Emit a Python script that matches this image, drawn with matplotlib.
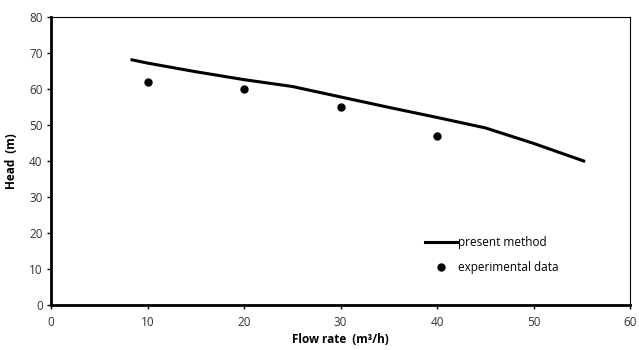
import matplotlib.pyplot as plt

# present method (computed curve)
method_q = [8.4, 10, 15, 20, 25, 30, 35, 40, 45, 50, 55.2]
method_h = [68.1, 67.2, 64.8, 62.6, 60.7, 57.8, 54.9, 52.1, 49.2, 44.9, 40.0]

# experimental data
exp_q = [10, 20, 30, 40]
exp_h = [62, 60, 55, 47]

x_ticks = [0, 10, 20, 30, 40, 50, 60]
y_ticks = [0, 10, 20, 30, 40, 50, 60, 70, 80]

plt.rcParams["font.family"] = ["Open Sans", "DejaVu Sans"]

fig = plt.figure(figsize=(6.39, 3.5), dpi=100)
ax = fig.add_axes([51 / 639, 45 / 350, 579 / 639, 288 / 350])

ax.plot(method_q, method_h, color="black", lw=2.2, label="present method")
ax.plot(exp_q, exp_h, "o", color="black", ms=5, label="experimental data")

ax.set_xlim(0, 60)
ax.set_ylim(0, 80)
ax.set_xticks(x_ticks)
ax.set_yticks(y_ticks)
ax.tick_params(direction="out", length=3, width=1, labelsize=8.5,
               labelcolor="#333333", pad=3)
ax.tick_params(axis="x", pad=5)

for side in ("left", "bottom"):
    ax.spines[side].set_linewidth(2)
for side in ("top", "right"):
    ax.spines[side].set_linewidth(0.8)

ax.set_xlabel("Flow rate  (m\u00b3/h)", fontsize=8.5, fontweight="bold", labelpad=3)
ax.set_ylabel("Head  (m)", fontsize=8.5, fontweight="bold", labelpad=8)

ax.legend(loc="lower right", bbox_to_anchor=(0.895, 0.07), frameon=False,
          fontsize=8.5, handlelength=2.7, handletextpad=0.1, labelspacing=1.0)

fig.savefig("out.png", dpi=100)
